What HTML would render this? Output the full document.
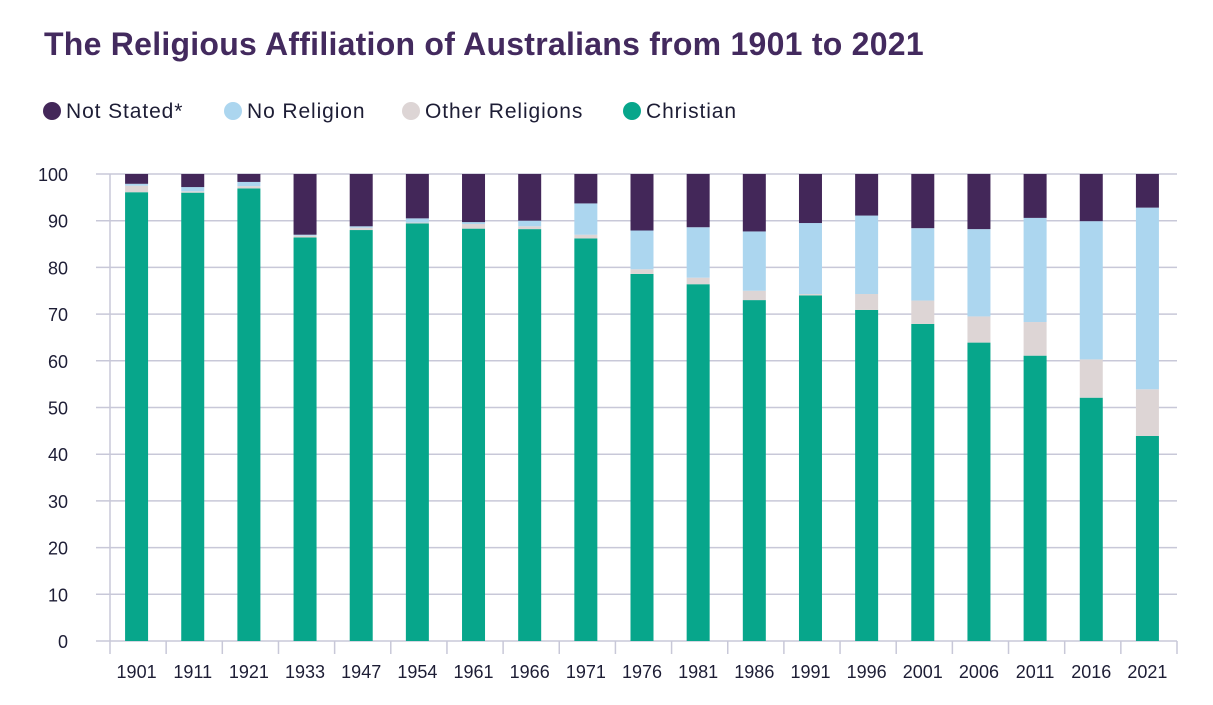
<!DOCTYPE html>
<html><head><meta charset="utf-8">
<style>
body{margin:0;background:#fff;font-family:"Liberation Sans",sans-serif;}
svg{display:block}
</style></head>
<body>
<svg width="1213" height="705">
<text x="44" y="55" font-size="32" letter-spacing="0.25" font-weight="bold" fill="#432a5e">The Religious Affiliation of Australians from 1901 to 2021</text>
<g id="legend"></g>
<g id="grid"></g>
<g id="bars"></g>
<g id="axes"></g>
</svg>
<script>
const years=["1901","1911","1921","1933","1947","1954","1961","1966","1971","1976","1981","1986","1991","1996","2001","2006","2011","2016","2021"];
const christian=[96.1,96.0,96.9,86.4,88.0,89.4,88.3,88.2,86.2,78.6,76.4,73.0,74.0,70.9,67.9,63.9,61.1,52.1,43.9];
const otherRel=[1.4,0.3,0.5,0.4,0.5,0.2,1.0,0.6,0.8,1.0,1.4,2.0,0.3,3.4,5.0,5.6,7.2,8.2,10.0];
const noRel=[0.4,0.9,0.9,0.2,0.3,0.9,0.4,1.2,6.7,8.3,10.8,12.7,15.2,16.8,15.5,18.7,22.3,29.6,38.9];
const notStated=[2.1,2.8,1.7,13.0,11.2,9.5,10.3,10.0,6.3,12.1,11.4,12.3,10.5,8.9,11.6,11.8,9.4,10.1,7.2];
const yTicks=[0,10,20,30,40,50,60,70,80,90,100];
const series=[["Christian",christian,"#07a68b"],["Other Religions",otherRel,"#ddd5d5"],["No Religion",noRel,"#acd6ef"],["Not Stated*",notStated,"#432759"]];
const NS="http://www.w3.org/2000/svg";
const X0=110,X1=1177,Y0=641,Y1=174;
const cw=(X1-X0)/years.length;
const y=v=>Y0-(v/100)*(Y0-Y1);
const xc=i=>X0+cw*(i+0.5)-1.5;
function mk(t,a,p){const e=document.createElementNS(NS,t);for(const k in a)e.setAttribute(k,a[k]);p.appendChild(e);return e;}
const grid=document.getElementById('grid'),bars=document.getElementById('bars'),axes=document.getElementById('axes'),leg=document.getElementById('legend');
yTicks.forEach(t=>{
 const l=mk('line',{x1:96,x2:X1,y1:y(t),y2:y(t),stroke:'#c8c8d8','stroke-width':1.5},grid);
 
 
 const tx=mk('text',{x:68,y:y(t)+7,'text-anchor':'end','font-size':18,fill:'#1d1d35'},axes);
 tx.textContent=t;
 
 
});
mk('line',{x1:X0,x2:X0,y1:Y1,y2:Y0,stroke:'#c8c8d8','stroke-width':1.5},axes);
for(let i=0;i<=years.length;i++){mk('line',{x1:X0+cw*i,x2:X0+cw*i,y1:Y0,y2:Y0+13,stroke:'#c8c8d8','stroke-width':1.5},axes);}
years.forEach((yr,i)=>{
 let base=0;
 series.forEach(s=>{
  const v=s[1][i];
  const r=mk('rect',{x:xc(i)-11.5,y:y(base+v),width:23,height:Math.max(0,y(base)-y(base+v)),fill:s[2]},bars);
  
  
  base+=v;
 });
 const tx=mk('text',{x:xc(i),y:678,'text-anchor':'middle','font-size':18,fill:'#1d1d35'},axes);
 tx.textContent=yr;
 
 
});
const legItems=[["Not Stated*","#432759",52],["No Religion","#acd6ef",233],["Other Religions","#ddd5d5",411],["Christian","#07a68b",632]];
legItems.forEach(li=>{
 const g=mk('g',{},leg);
 
 
 mk('circle',{cx:li[2],cy:111,r:9,fill:li[1]},g);
 const t=mk('text',{x:li[2]+14,y:118,'font-size':21,'letter-spacing':0.9,fill:'#1d1d35'},g);
 t.textContent=li[0];
});
</script>
</body></html>
